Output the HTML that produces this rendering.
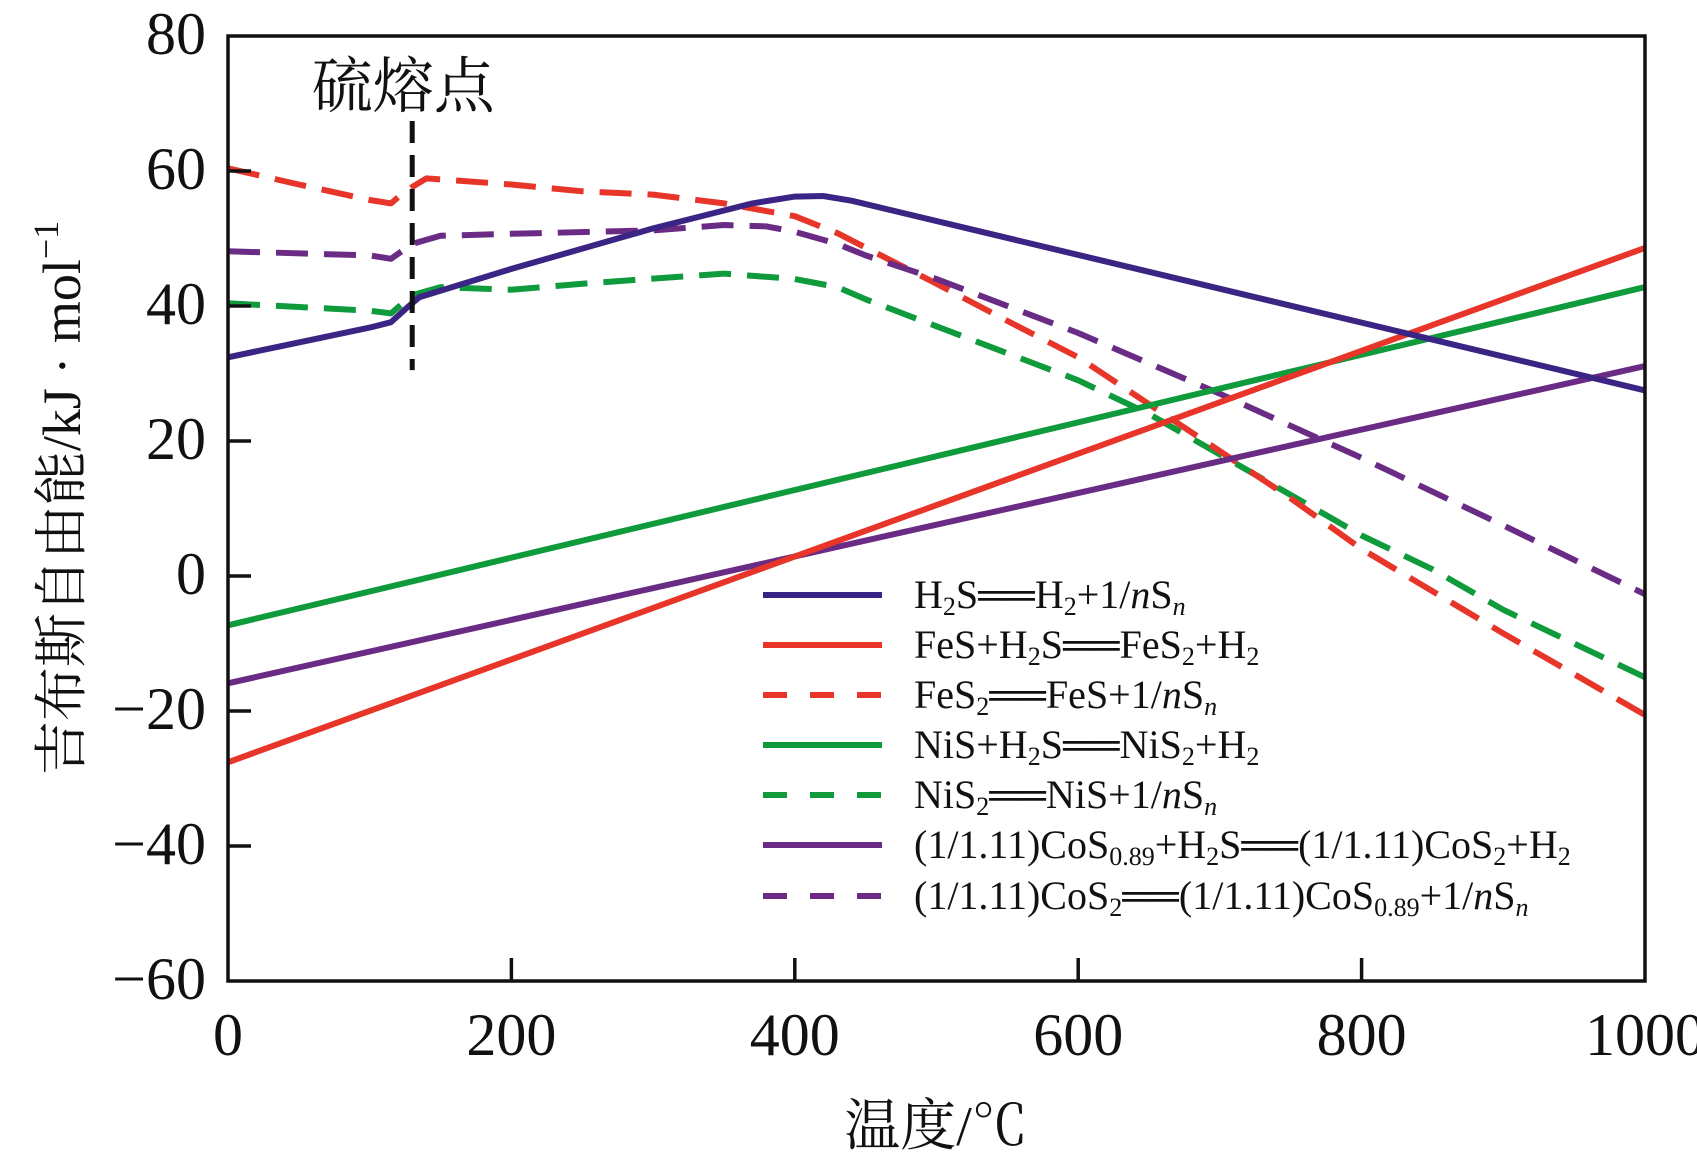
<!DOCTYPE html>
<html><head><meta charset="utf-8">
<style>
html,body{margin:0;padding:0;background:#fff;}
svg{display:block;font-family:"Liberation Serif","Noto Serif CJK SC",serif;}
</style></head>
<body>
<svg id="chart" width="1697" height="1167" viewBox="0 0 1697 1167" xmlns="http://www.w3.org/2000/svg">
<g id="plot"></g>
<g id="axes"></g>
</svg>
<script>
// ---- data ----
const xTicks = [0, 200, 400, 600, 800, 1000];
const yTicks = [80, 60, 40, 20, 0, -20, -40, -60];
const yTickLabels = ["80", "60", "40", "20", "0", "\u221220", "\u221240", "\u221260"];
const h2sX = [0, 50, 100, 115, 125, 135, 200, 300, 370, 400, 420, 440, 1000];
const h2sY = [32.4, 34.6, 36.8, 37.6, 39.5, 41.3, 45.5, 51.5, 55.2, 56.2, 56.3, 55.6, 27.5];
const fesX = [0, 1000];
const fesY = [-27.6, 48.6];
const fes2X = [0, 50, 100, 115, 125, 140, 200, 250, 300, 350, 400, 430, 500, 550, 600, 700, 750, 800, 900, 1000];
const fes2Y = [60.4, 58, 55.7, 55.2, 57, 58.9, 58, 57, 56.5, 55.2, 53.3, 50.8, 43.3, 37.8, 32.4, 18.5, 11.5, 4, -8.5, -20.6];
const nisX = [0, 1000];
const nisY = [-7.3, 42.8];
const nis2X = [0, 100, 115, 130, 150, 200, 250, 350, 400, 430, 450, 500, 550, 600, 650, 700, 750, 800, 850, 900, 950, 1000];
const nis2Y = [40.4, 39.3, 38.9, 41.6, 42.8, 42.4, 43.3, 44.8, 44, 42.8, 41, 37, 33, 29, 24, 18, 12, 6, 1, -5, -10, -15];
const cosX = [0, 1000];
const cosY = [-15.9, 31.1];
const cos2X = [0, 100, 115, 130, 150, 200, 300, 350, 380, 400, 430, 450, 500, 600, 700, 800, 900, 1000];
const cos2Y = [48.1, 47.5, 47, 49.2, 50.4, 50.7, 51.2, 52, 51.8, 51, 49.2, 47.5, 44, 36, 27, 17.5, 7.5, -2.7];
const meltX = 130;
const meltTop = 67.4;
const meltBottom = 30.5;

// ---- scales ----
const L = 228, R = 1645, T = 36, B = 981;
const xs = v => L + (v - 0) / 1000 * (R - L);
const ys = v => T + (80 - v) / 140 * (B - T);
const NS = "http://www.w3.org/2000/svg";
function mk(tag, attrs, parent) {
  const e = document.createElementNS(NS, tag);
  for (const k in attrs) e.setAttribute(k, attrs[k]);
  parent.appendChild(e);
  return e;
}
const plot = document.getElementById('plot');
const axes = document.getElementById('axes');

const series = [
  {name:'h2s-line', xs:h2sX, ys:h2sY, color:'#3b2584', dash:null},
  {name:'fes-line', xs:fesX, ys:fesY, color:'#e8352a', dash:null},
  {name:'fes2-line', xs:fes2X, ys:fes2Y, color:'#e8352a', dash:'32 16'},
  {name:'nis-line', xs:nisX, ys:nisY, color:'#0f9a3c', dash:null},
  {name:'nis2-line', xs:nis2X, ys:nis2Y, color:'#0f9a3c', dash:'32 16'},
  {name:'cos-line', xs:cosX, ys:cosY, color:'#6a2b85', dash:null},
  {name:'cos2-line', xs:cos2X, ys:cos2Y, color:'#6a2b85', dash:'32 16'}
];
const order = [4, 2, 6, 5, 3, 1, 0];
order.forEach(i => {
  const s = series[i];
  const d = s.xs.map((x, j) => (j ? 'L' : 'M') + xs(x).toFixed(1) + ' ' + ys(s.ys[j]).toFixed(1)).join(' ');
  const p = mk('path', {d:d, fill:'none', stroke:s.color, 'stroke-width':6, 'stroke-linejoin':'round'}, plot);
  if (s.dash) p.setAttribute('stroke-dasharray', s.dash);
  
  
});

// melting point line
const ml = mk('line', {x1:xs(meltX), x2:xs(meltX), y1:ys(meltTop), y2:ys(meltBottom), stroke:'#111', 'stroke-width':5, 'stroke-dasharray':'22 12'}, plot);


const mt = mk('text', {x:xs(meltX) - 9, y:107, 'font-size':61, 'text-anchor':'middle', fill:'#111'}, plot);
mt.textContent = '硫熔点';



// frame
const fr = mk('rect', {x:L, y:T, width:R - L, height:B - T, fill:'none', stroke:'#111', 'stroke-width':3.5}, axes);



yTicks.forEach((v, i) => {
  const y = ys(v);
  if (v !== 80 && v !== -60) {
    const t = mk('line', {x1:L, x2:L + 23, y1:y, y2:y, stroke:'#111', 'stroke-width':3.5}, axes);
    
    
  }
  const tx = mk('text', {x:206, y:y + 18, 'font-size':60, 'text-anchor':'end', fill:'#111'}, axes);
  tx.textContent = yTickLabels[i];
  
  
});
xTicks.forEach(v => {
  const x = xs(v);
  if (v !== 0 && v !== 1000) {
    const t = mk('line', {x1:x, x2:x, y1:B, y2:B - 23, stroke:'#111', 'stroke-width':3.5}, axes);
    
    
  }
  const tx = mk('text', {x:x, y:1055, 'font-size':60, 'text-anchor':'middle', fill:'#111'}, axes);
  tx.textContent = String(v);
  
  
});
</script>
<svg style="position:absolute;left:0;top:0" width="1697" height="1167">
  <text x="936" y="1145" font-size="56" text-anchor="middle" fill="#111" font-family="Liberation Serif, Noto Serif CJK SC, serif">温度/℃</text>
  <text transform="translate(80,498) rotate(-90)" font-size="54" text-anchor="middle" fill="#111" font-family="Liberation Serif, Noto Serif CJK SC, serif">吉布斯自由能/kJ · mol<tspan dy="-22" font-size="36">−1</tspan></text>
  <g font-family="Liberation Serif, serif" font-size="40" fill="#111">
    <g>
      <line x1="763" x2="882" y1="595" y2="595" stroke="#3b2584" stroke-width="6"/>
      <text x="914" y="608">H<tspan font-size="26" dy="7">2</tspan><tspan dy="-7">S</tspan><tspan font-weight="bold">══</tspan>H<tspan font-size="26" dy="7">2</tspan><tspan dy="-7">+1/</tspan><tspan font-style="italic">n</tspan>S<tspan font-size="26" dy="7" font-style="italic">n</tspan></text>
    </g>
    <g>
      <line x1="763" x2="882" y1="645" y2="645" stroke="#e8352a" stroke-width="6"/>
      <text x="914" y="658">FeS+H<tspan font-size="26" dy="7">2</tspan><tspan dy="-7">S</tspan><tspan font-weight="bold">══</tspan>FeS<tspan font-size="26" dy="7">2</tspan><tspan dy="-7">+H</tspan><tspan font-size="26" dy="7">2</tspan></text>
    </g>
    <g>
      <line x1="763" x2="882" y1="695" y2="695" stroke="#e8352a" stroke-width="6" stroke-dasharray="24 23"/>
      <text x="914" y="708">FeS<tspan font-size="26" dy="7">2</tspan><tspan dy="-7" font-weight="bold">══</tspan>FeS+1/<tspan font-style="italic">n</tspan>S<tspan font-size="26" dy="7" font-style="italic">n</tspan></text>
    </g>
    <g>
      <line x1="763" x2="882" y1="745" y2="745" stroke="#0f9a3c" stroke-width="6"/>
      <text x="914" y="758">NiS+H<tspan font-size="26" dy="7">2</tspan><tspan dy="-7">S</tspan><tspan font-weight="bold">══</tspan>NiS<tspan font-size="26" dy="7">2</tspan><tspan dy="-7">+H</tspan><tspan font-size="26" dy="7">2</tspan></text>
    </g>
    <g>
      <line x1="763" x2="882" y1="795" y2="795" stroke="#0f9a3c" stroke-width="6" stroke-dasharray="24 23"/>
      <text x="914" y="808">NiS<tspan font-size="26" dy="7">2</tspan><tspan dy="-7" font-weight="bold">══</tspan>NiS+1/<tspan font-style="italic">n</tspan>S<tspan font-size="26" dy="7" font-style="italic">n</tspan></text>
    </g>
    <g>
      <line x1="763" x2="882" y1="845" y2="845" stroke="#6a2b85" stroke-width="6"/>
      <text x="914" y="858">(1/1.11)CoS<tspan font-size="26" dy="7">0.89</tspan><tspan dy="-7">+H</tspan><tspan font-size="26" dy="7">2</tspan><tspan dy="-7">S</tspan><tspan font-weight="bold">══</tspan>(1/1.11)CoS<tspan font-size="26" dy="7">2</tspan><tspan dy="-7">+H</tspan><tspan font-size="26" dy="7">2</tspan></text>
    </g>
    <g>
      <line x1="763" x2="882" y1="896" y2="896" stroke="#6a2b85" stroke-width="6" stroke-dasharray="24 23"/>
      <text x="914" y="909">(1/1.11)CoS<tspan font-size="26" dy="7">2</tspan><tspan dy="-7" font-weight="bold">══</tspan>(1/1.11)CoS<tspan font-size="26" dy="7">0.89</tspan><tspan dy="-7">+1/</tspan><tspan font-style="italic">n</tspan>S<tspan font-size="26" dy="7" font-style="italic">n</tspan></text>
    </g>
  </g>
</svg>
</body></html>
